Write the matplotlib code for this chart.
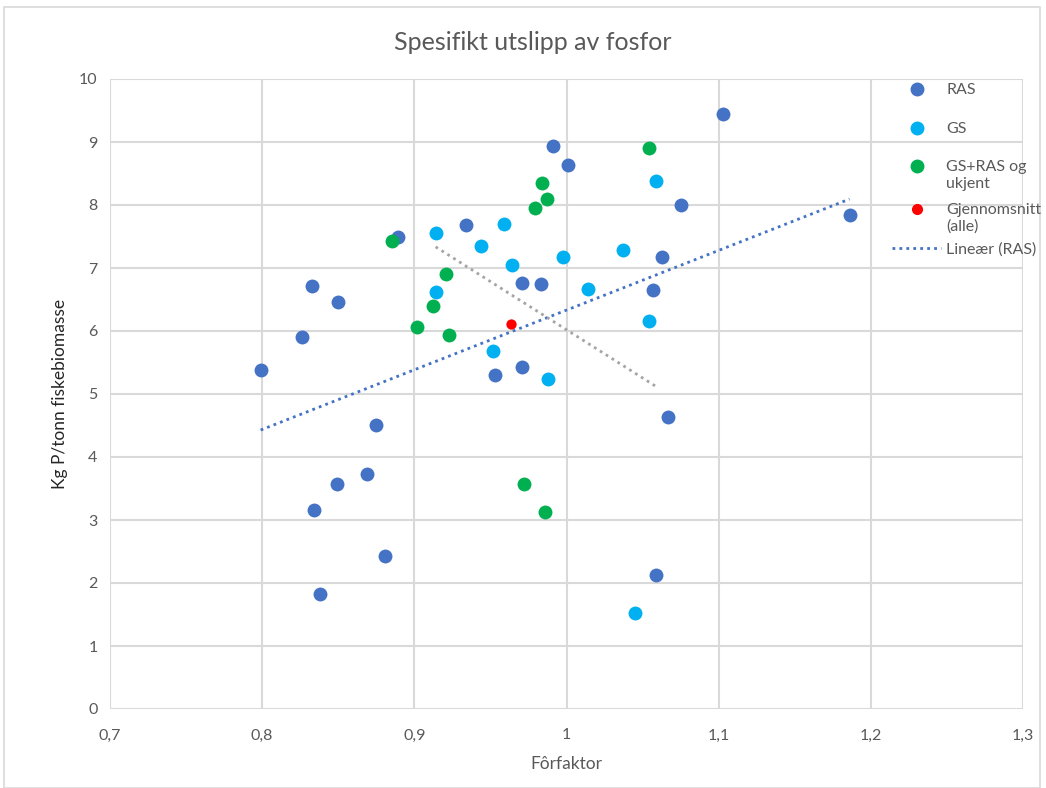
import numpy as np
import matplotlib
matplotlib.use("Agg")
import matplotlib.pyplot as plt
from matplotlib.ticker import FuncFormatter, MultipleLocator
from matplotlib.lines import Line2D
from matplotlib.patches import Rectangle

plt.rcParams['font.family'] = ['Lato', 'DejaVu Sans']

# Data
ras_x = [0.799, 0.826, 0.833, 0.850, 0.875, 0.869, 0.849, 0.834, 0.881, 0.838,
         0.889, 0.934, 0.991, 1.001, 0.971, 0.983, 0.953, 0.971, 1.103, 1.075,
         1.063, 1.057, 1.067, 1.059, 1.186]
ras_y = [5.38, 5.90, 6.71, 6.46, 4.51, 3.73, 3.57, 3.16, 2.43, 1.83,
         7.49, 7.68, 8.94, 8.63, 6.76, 6.75, 5.30, 5.43, 9.44, 8.00,
         7.17, 6.65, 4.63, 2.13, 7.84]
gs_x = [0.914, 0.959, 0.944, 0.964, 0.914, 0.952, 0.988, 0.998, 1.014, 1.037,
        1.059, 1.054, 1.045]
gs_y = [7.56, 7.70, 7.35, 7.05, 6.62, 5.68, 5.24, 7.17, 6.67, 7.29,
        8.38, 6.16, 1.52]
mix_x = [0.885, 0.921, 0.912, 0.902, 0.923, 0.984, 0.987, 0.979, 1.054, 0.972, 0.986]
mix_y = [7.43, 6.90, 6.40, 6.06, 5.94, 8.35, 8.10, 7.95, 8.90, 3.57, 3.13]
avg_x = [0.9635]
avg_y = [6.11]
# grey (unlabelled) trend line: slope and intercept
grey_trend = [-15.3, 21.32]

labels = ["RAS", "GS", "GS+RAS og\nukjent", "Gjennomsnitt\n(alle)", "Lineær (RAS)"]
title = "Spesifikt utslipp av fosfor"
xlabel = "Fôrfaktor"
ylabel = "Kg P/tonn fiskebiomasse"

c_ras = "#4472C4"
c_gs = "#00B0F0"
c_mix = "#00B050"
c_avg = "#FF0000"
c_grid = "#D9D9D9"
c_text = "#595959"

W, H = 1046, 788
fig = plt.figure(figsize=(W/100, H/100), dpi=100)
ax = fig.add_axes([110/W, 1-709/H, (1023-110)/W, (709-79)/H])

ax.set_xlim(0.7, 1.3)
ax.set_ylim(0, 10)
ax.xaxis.set_major_locator(MultipleLocator(0.1))
ax.yaxis.set_major_locator(MultipleLocator(1))
fmt = FuncFormatter(lambda v, p: ("%g" % round(v, 2)).replace('.', ','))
ax.xaxis.set_major_formatter(fmt)
ax.yaxis.set_major_formatter(fmt)
ax.grid(True, color=c_grid, linewidth=1.5, zorder=0)
ax.set_axisbelow(True)
for s in ax.spines.values():
    s.set_visible(False)
ax.tick_params(length=0, labelsize=11.5, labelcolor=c_text)
ax.tick_params(axis='x', pad=14)
ax.tick_params(axis='y', pad=9)

dot = (0, (1, 1.5))
# RAS linear trend
rx = np.array(ras_x); ry = np.array(ras_y)
k, m = np.polyfit(rx, ry, 1)
tx = np.array([rx.min(), rx.max()])
ax.plot(tx, k*tx + m, ls=dot, color=c_ras, lw=2.0, zorder=2)
# grey trend over the GS range
gx = np.array([min(gs_x), max(gs_x)])
ax.plot(gx, grey_trend[0]*gx + grey_trend[1], ls=dot, color="#A5A5A5", lw=2.0, zorder=2)

ax.scatter(ras_x, ras_y, s=100, color=c_ras, zorder=3, linewidths=0)
ax.scatter(gs_x, gs_y, s=100, color=c_gs, zorder=3, linewidths=0)
ax.scatter(mix_x, mix_y, s=100, color=c_mix, zorder=3, linewidths=0)
ax.scatter(avg_x, avg_y, s=55, color=c_avg, zorder=4, linewidths=0)

fig.text(533/W, 1-42/H, title, fontsize=18, color=c_text, ha='center', va='center')
ax.set_xlabel(xlabel, fontsize=12.5, color=c_text, labelpad=10)
ax.set_ylabel(ylabel, fontsize=12.5, color="#262626", labelpad=8)

# legend (manual, markers aligned with the first text line)
handles = [
    dict(marker='o', ms=9, color=c_ras, ls='none'),
    dict(marker='o', ms=9, color=c_gs, ls='none'),
    dict(marker='o', ms=9, color=c_mix, ls='none'),
    dict(marker='o', ms=7, color=c_avg, ls='none'),
    dict(marker=None, ls=dot, lw=2, color=c_ras),
]
leg_y = [89, 128, 166, 209, 248]
for h, lab, yy in zip(handles, labels, leg_y):
    yf = 1 - yy/H
    if h['marker']:
        fig.add_artist(Line2D([917/W], [yf], transform=fig.transFigure, **h))
    else:
        fig.add_artist(Line2D([892/W, 941/W], [yf, yf], transform=fig.transFigure, **h))
    fig.text(946/W, yf + 6/H, lab, fontsize=11.5, color=c_text, ha='left', va='top',
             linespacing=1.25, transform=fig.transFigure)

fig.patches.append(Rectangle((4/W, 0), 1036/W, 1-7/H, transform=fig.transFigure,
                             fill=False, edgecolor="#D9D9D9", lw=1.2))

fig.savefig("out.png", dpi=100)
